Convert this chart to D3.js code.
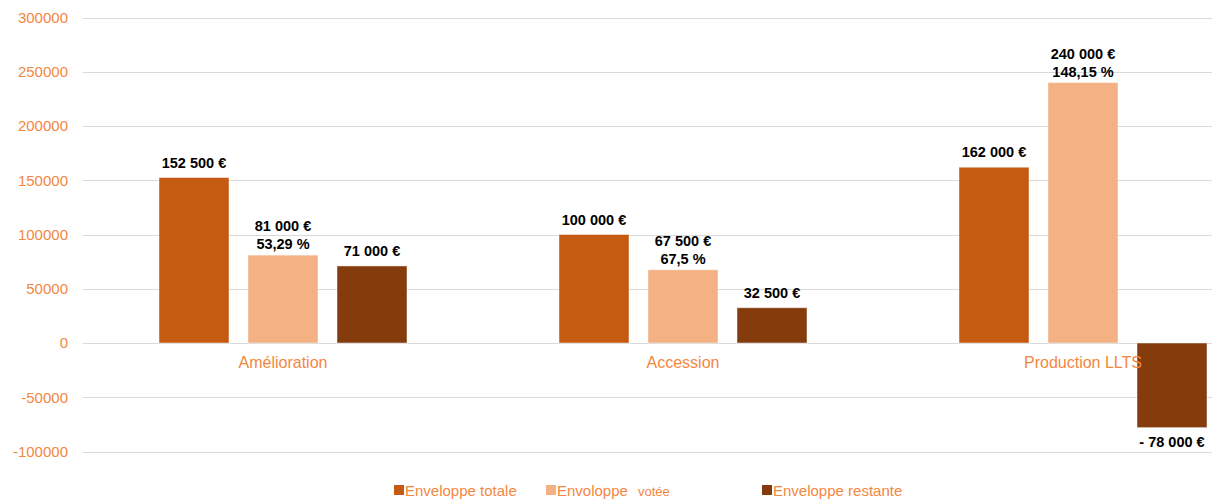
<!DOCTYPE html>
<html><head><meta charset="utf-8">
<script src="https://cdn.jsdelivr.net/npm/d3@7"></script>
<style>body{margin:0;background:#fff;} text{font-family:"Liberation Sans",Arial,sans-serif;}</style>
</head><body><svg id="c" width="1212" height="500"></svg>
<script>
const categories = ["Amélioration", "Accession", "Production LLTS"];
const seriesNames = ["Enveloppe totale", "Envoloppe", "Enveloppe restante"];
const totale = [152500, 100000, 162000];
const votee = [81000, 67500, 240000];
const restante = [71000, 32500, -78000];
const pctLabels = ["53,29 %", "67,5 %", "148,15 %"];
const valueLabels = [
  ["152 500 €", "100 000 €", "162 000 €"],
  ["81 000 €", "67 500 €", "240 000 €"],
  ["71 000 €", "32 500 €", "- 78 000 €"]
];
const yTicks = [300000, 250000, 200000, 150000, 100000, 50000, 0, -50000, -100000];
const colors = ["#C55A11", "#F4B183", "#843C0C"];
const series = [totale, votee, restante];

const svg = d3.select("#c");
const orange = "#F2873F";
const y = d3.scaleLinear().domain([-100000, 300000]).range([451.5, 17.5]);
const x0 = d3.scaleBand().domain(categories).range([83, 1283]).paddingInner(0).paddingOuter(0);
const groupW = 248;
const x1 = d3.scaleBand().domain([0,1,2]).range([0, groupW]).paddingInner(0.2135).paddingOuter(0);

// grid
svg.append("g").selectAll("line").data(yTicks).join("line")
  .attr("x1", 83).attr("x2", 1212).attr("y1", d => Math.round(y(d))+0.5).attr("y2", d => Math.round(y(d))+0.5)
  .attr("stroke", "#d9d9d9").attr("stroke-width", 1);

// y axis labels
const yAxis = d3.axisLeft(y).tickValues(yTicks).tickSize(0).tickPadding(0).tickFormat(d => String(d));
const ya = svg.append("g").attr("transform", "translate(68,0)").call(yAxis);
ya.select(".domain").remove();
ya.selectAll("text").attr("fill", orange).style("font-size", "15px").style("font-family", "Liberation Sans, Arial, sans-serif");

// bars
const groupOffset = (x0.bandwidth() - groupW) / 2;
series.forEach((vals, si) => {
  svg.append("g").selectAll("rect").data(vals).join("rect")
    .attr("x", (d, i) => x0(categories[i]) + groupOffset + x1(si))
    .attr("width", x1.bandwidth())
    .attr("y", d => y(Math.max(0, d)))
    .attr("height", d => Math.abs(y(d) - y(0)))
    .attr("fill", colors[si])
    .attr("stroke", "rgba(255,255,255,0.45)").attr("stroke-width", 1);
});

// category labels
svg.append("g").selectAll("text").data(categories).join("text")
  .attr("x", d => x0(d) + x0.bandwidth()/2).attr("y", y(0) + 25)
  .attr("text-anchor", "middle").attr("fill", orange).style("font-size", "16px").text(d => d);

// value labels
series.forEach((vals, si) => {
  vals.forEach((v, i) => {
    const cx = x0(categories[i]) + groupOffset + x1(si) + x1.bandwidth()/2;
    const g = svg.append("g");
    if (si === 1) {
      g.append("text").attr("x", cx).attr("y", y(v) - 24).text(valueLabels[si][i]);
      g.append("text").attr("x", cx).attr("y", y(v) - 6).text(pctLabels[i]);
    } else if (v < 0) {
      g.append("text").attr("x", cx).attr("y", y(v) + 19).text(valueLabels[si][i]);
    } else {
      g.append("text").attr("x", cx).attr("y", y(v) - 10).text(valueLabels[si][i]);
    }
    g.selectAll("text").attr("text-anchor", "middle").attr("font-weight", "bold")
      .style("font-size", "14.5px").attr("fill", "#000");
  });
});

// legend
const legendX = [394, 546, 762];
const lg = svg.append("g");
seriesNames.forEach((n, i) => {
  lg.append("rect").attr("x", legendX[i]).attr("y", 485).attr("width", 10).attr("height", 10).attr("fill", colors[i]);
  lg.append("text").attr("x", legendX[i] + 11).attr("y", 496).attr("fill", orange).style("font-size", "15px").text(n);
});
lg.append("text").attr("x", 638).attr("y", 496).attr("fill", orange).style("font-size", "13px").text("votée");
</script></body></html>
